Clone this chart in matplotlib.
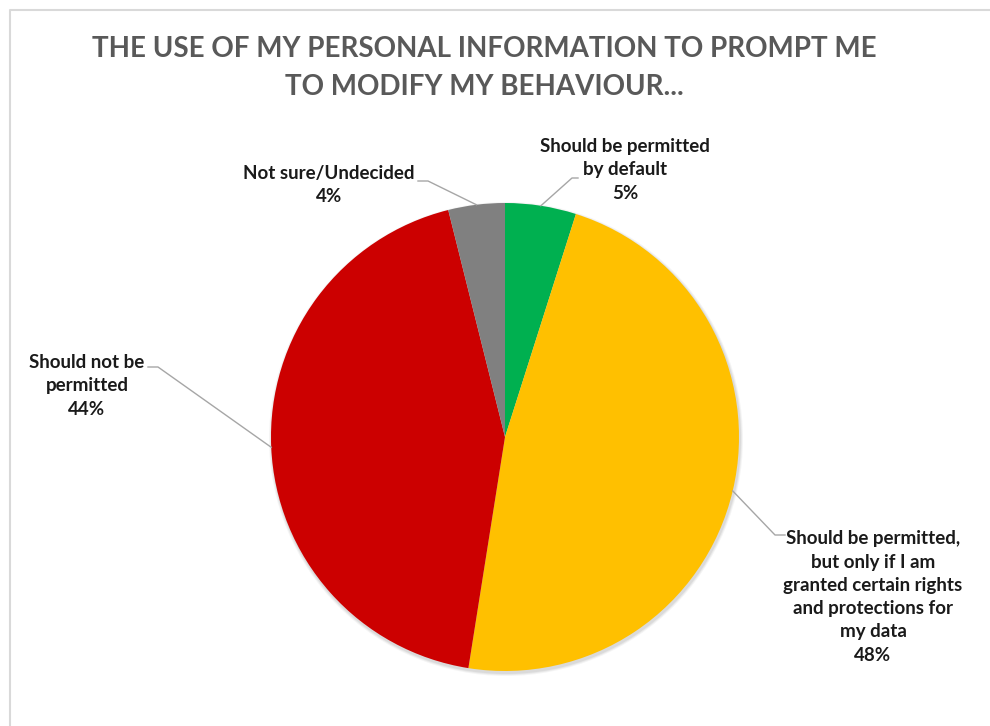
import numpy as np
import matplotlib
matplotlib.use("Agg")
import matplotlib.pyplot as plt
from matplotlib.patches import Circle
from matplotlib.lines import Line2D

# data (clockwise from 12 o'clock)
labels = ["Should be permitted\nby default",
          "Should be permitted,\nbut only if I am\ngranted certain rights\nand protections for\nmy data",
          "Should not be\npermitted",
          "Not sure/Undecided"]
values = [4.9, 47.6, 43.6, 3.9]
colors = ["#00B050", "#FFC000", "#CC0000", "#808080"]

title = "THE USE OF MY PERSONAL INFORMATION TO PROMPT ME\nTO MODIFY MY BEHAVIOUR..."

W, H = 990, 726
fig = plt.figure(figsize=(W / 100, H / 100), dpi=100)
ax = fig.add_axes([0, 0, 1, 1])

# light chart border (only top and left visible)
fig.lines.append(Line2D([10 / W, 10 / W, 1.0], [0.0, 1 - 10 / H, 1 - 10 / H],
                        transform=fig.transFigure, color="#D9D9D9", lw=1.5))

cx, cy, r = 505, H - 437, 234

# soft shadow
for k, a in enumerate([0.06, 0.05, 0.04]):
    ax.add_patch(Circle((cx + 1, cy - 2), r + 1 + k, color="black", alpha=a, lw=0, zorder=1))

wedges, _ = ax.pie(values, colors=colors, startangle=90, counterclock=False,
                   center=(cx, cy), radius=r, frame=True,
                   wedgeprops=dict(linewidth=0, zorder=2))
ax.set_xlim(0, W)
ax.set_ylim(0, H)
ax.set_aspect("equal")
ax.axis("off")

lab_font = dict(family=["Lato", "DejaVu Sans"], fontweight="bold",
                fontsize=13.5, color="#1a1a1a", ha="center", va="center", linespacing=1.45)

# label centers and leader elbows (pixel coords, y from top)
text_pos = [(625, 170), (873, 597), (87, 386), (329, 185)]
elbow = [[(572, 178), (578, 178)],
         [(775, 535), (785, 535)],
         [(158, 367), (148, 367)],
         [(428, 181), (418, 181)]]

cum = np.cumsum([0] + values)
total = cum[-1]
for i, w in enumerate(wedges):
    mid = (cum[i] + values[i] / 2) / total * 360
    ex = cx + r * np.sin(np.radians(mid))
    ey = cy + r * np.cos(np.radians(mid))
    xs = [ex] + [p[0] for p in elbow[i]]
    ys = [ey] + [H - p[1] for p in elbow[i]]
    ax.plot(xs, ys, color="#A6A6A6", lw=1.0, zorder=3)
    tx, ty = text_pos[i]
    ax.text(tx, H - ty, f"{labels[i]}\n{values[i]:.0f}%", **lab_font)

ax.text(484, H - 68, title, ha="center", va="center", fontsize=20, fontweight="bold",
        color="#595959", family=["Lato", "DejaVu Sans"], linespacing=1.6)

fig.savefig("out.png", dpi=100)
